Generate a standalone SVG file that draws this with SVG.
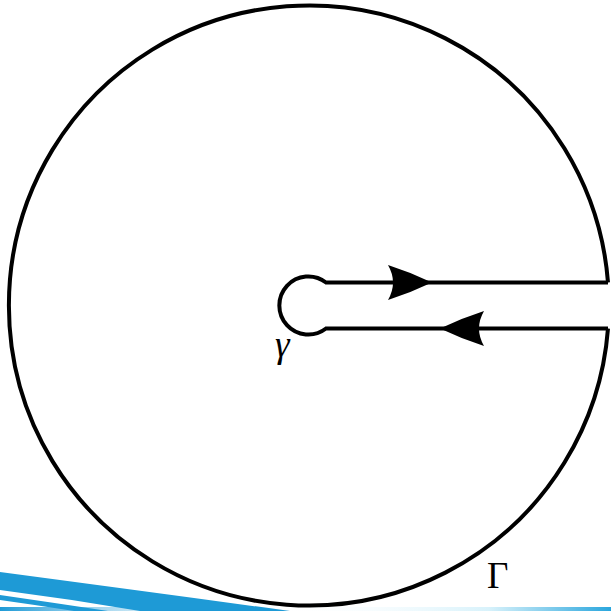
<svg xmlns="http://www.w3.org/2000/svg" width="611" height="611" viewBox="0 0 611 611">
<style>
.c{fill:none;stroke:#000;stroke-width:4}
.a{fill:#000;stroke:none}
.t{font-family:"Liberation Serif","Times New Roman",serif;fill:#000}
</style>
<defs>
<linearGradient id="bot" x1="0" y1="0" x2="1" y2="0">
<stop offset="0" stop-color="#1e9ad6"/>
<stop offset="0.45" stop-color="#ffffff" stop-opacity="0"/>
<stop offset="0.8" stop-color="#d8f2fb"/>
<stop offset="1" stop-color="#2aa6dd"/>
</linearGradient>
</defs>
<rect width="611" height="611" fill="#fff"/>
<g id="swoosh">
<rect x="0" y="607" width="611" height="4" fill="url(#bot)"/>
<path d="M0,572 Q150,592 290,611 L140,611 Q70,599 0,590 Z" fill="#1e9ad6"/>
<path d="M0,595 Q55,603 108,611 L74,611 Q36,605 0,600 Z" fill="#1e9ad6"/>
</g>
<g id="contour">
<path class="c" d="M608,282.5 A300,300 0 1 0 608,328.5"/>
<path class="c" d="M608,282.5 L326,282.5 A29,29 0 1 0 326,328.5 L608,328.5"/>
</g>
<g id="connectors">
<path class="a" d="M432,282.5 Q410,272 388,265 Q398,282.5 388,300 Q410,293 432,282.5 Z"/>
<path class="a" d="M440,328.5 Q462,318 484,311 Q474,328.5 484,346 Q462,339 440,328.5 Z"/>
</g>
<g id="labels">
<text class="t" x="275" y="357" font-size="37" font-style="italic">γ</text>
<text class="t" x="487" y="588" font-size="37">Γ</text>
</g>
</svg>
